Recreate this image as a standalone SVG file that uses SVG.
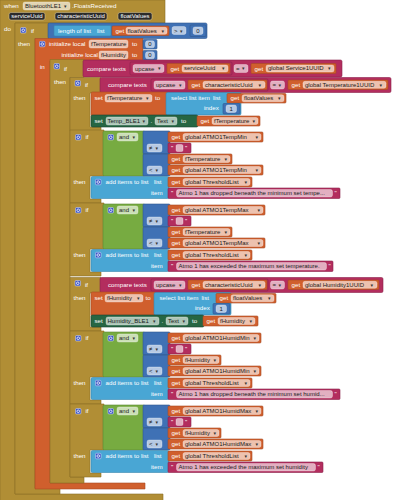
<svg xmlns="http://www.w3.org/2000/svg" width="393" height="500" viewBox="0 0 393 500">
<style>
text{font-family:'Liberation Sans','DejaVu Sans',sans-serif;font-size:6.2px;fill:#fff}
.d{fill:#1a1a1a;font-size:6px}
.a{fill:#333;font-size:5px}
.g{fill:#B18E35;stroke:#8C6F27;stroke-width:.6}
.o{fill:#D05F2D;stroke:#A74B22;stroke-width:.6}
.p{fill:#B32D5E;stroke:#8C2249;stroke-width:.6}
.lb{fill:#49A6D4;stroke:#3886AE;stroke-width:.6}
.mb{fill:#3F71B5;stroke:#2F578E;stroke-width:.6}
.lg{fill:#77AB41;stroke:#5C8832;stroke-width:.6}
.dg{fill:#266643;stroke:#184530;stroke-width:.6}
.f{fill:#fff;fill-opacity:.62;stroke:#fff;stroke-opacity:.6;stroke-width:.5}
.pd{fill:#2b2b2b;stroke:#E0CFA0;stroke-width:.5}
</style>
<defs>
<g id="gear"><rect width="5.5" height="5.5" rx="1" fill="#3B55C6" stroke="#DDE3FF" stroke-width=".5"/><circle cx="2.75" cy="2.75" r="1.3" fill="none" stroke="#fff" stroke-width=".8"/></g>
</defs>

<g id="event">
<path class="g" d="M0,0H165V23H15V494H163V502H0Z"/>
<text x="4" y="8.3">when</text>
<rect class="f" x="23" y="2" width="47" height="8" rx="2"/>
<text class="d" x="25" y="8.2">BluetoothLE1</text><text class="a" x="64" y="8">▾</text>
<text x="72" y="8.3">.FloatsReceived</text>
<rect class="pd" x="9" y="12.5" width="36" height="7.5" rx="2"/><text x="27" y="18.3" text-anchor="middle" style="font-size:6px">serviceUuid</text>
<rect class="pd" x="55" y="12.5" width="52" height="7.5" rx="2"/><text x="81" y="18.3" text-anchor="middle" style="font-size:6px">characteristicUuid</text>
<rect class="pd" x="118" y="12.5" width="34" height="7.5" rx="2"/><text x="135" y="18.3" text-anchor="middle" style="font-size:6px">floatValues</text>
<text x="4" y="30.5">do</text>
</g>

<g id="if-length">
<path class="g" d="M15,23H49V38.5H35V488H60V494H15Z"/>
<use href="#gear" x="20.5" y="27.5"/>
<text x="31" y="32.7">if</text>
<text x="18" y="45.7">then</text>
</g>

<g id="cmp-length">
<rect class="mb" x="48" y="23" width="159" height="15.5" rx="1.5"/>
<rect class="lb" x="54" y="25.5" width="57" height="10.5" rx="1"/>
<text x="58" y="32.7">length of list</text><text x="97" y="32.7">list</text>
<rect class="o" x="112" y="26" width="57" height="9.5" rx="1"/>
<text x="115.5" y="32.7">get</text>
<rect class="f" x="126" y="27.3" width="41" height="7" rx="2"/>
<text class="d" x="127.5" y="32.6">floatValues</text><text class="a" x="161.5" y="32.5">▾</text>
<rect class="f" x="172" y="26.5" width="14" height="8" rx="2"/>
<text class="d" x="174" y="32.6">&gt;</text><text class="a" x="180" y="32.5">▾</text>
<rect class="mb" x="190" y="25" width="16" height="11.5" rx="1"/>
<rect class="f" x="193" y="27" width="10" height="7.5" rx="2"/>
<text class="d" x="198" y="32.6" text-anchor="middle">0</text>
</g>

<g id="init-local">
<path class="o" d="M35,38.5H143V61H50V483H145V489H35Z"/>
<use href="#gear" x="39.5" y="41.3"/>
<text x="49" y="46.3">initialize local</text>
<rect class="f" x="89" y="40" width="39" height="8" rx="2"/>
<text class="d" x="91" y="46.2">fTemperature</text>
<text x="132" y="46.3">to</text>
<rect class="mb" x="143" y="39.5" width="14" height="9.5" rx="1"/>
<rect class="f" x="145.5" y="40.8" width="9" height="7" rx="2"/>
<text class="d" x="150" y="46.2" text-anchor="middle">0</text>
<text x="61.5" y="57.3">initialize local</text>
<rect class="f" x="99" y="51" width="29" height="8" rx="2"/>
<text class="d" x="101" y="57.2">fHumidity</text>
<text x="132" y="57.3">to</text>
<rect class="mb" x="143" y="50.5" width="14" height="9.5" rx="1"/>
<rect class="f" x="145.5" y="51.8" width="9" height="7" rx="2"/>
<text class="d" x="150" y="57.2" text-anchor="middle">0</text>
<text x="40" y="68.5">in</text>
</g>

<g id="if-service">
<path class="g" d="M50,59.5H84V77.5H70V477H84V483H50Z"/>
<use href="#gear" x="54" y="63.5"/>
<text x="64" y="70.5">if</text>
<text x="54" y="84.3">then</text>
</g>

<g id="cmp-service">
<rect class="p" x="83" y="60" width="259" height="17" rx="1.5"/>
<text x="87" y="70.5">compare texts</text>
<rect class="p" x="130" y="62" width="102" height="13" rx="1"/>
<rect class="f" x="133" y="64.5" width="31" height="8" rx="2"/>
<text class="d" x="135" y="70.6">upcase</text><text class="a" x="158" y="70.4">▾</text>
<rect class="o" x="167" y="63.5" width="63" height="10" rx="1"/>
<text x="170.5" y="70.5">get</text>
<rect class="f" x="182" y="65" width="46" height="7" rx="2"/>
<text class="d" x="184" y="70.4">serviceUuid</text><text class="a" x="222" y="70.3">▾</text>
<rect class="f" x="234" y="64.5" width="14" height="8" rx="2"/>
<text class="d" x="236" y="70.6">=</text><text class="a" x="242" y="70.4">▾</text>
<rect class="o" x="251" y="63.5" width="85" height="10" rx="1"/>
<text x="254.5" y="70.5">get</text>
<rect class="f" x="266" y="65" width="68" height="7" rx="2"/>
<text class="d" x="268" y="70.4">global Service1UUID</text><text class="a" x="328" y="70.3">▾</text>
</g>

<g id="if-temp">
<path class="g" d="M70,77.5H101V93H90V127H101V130.5H70Z"/>
<use href="#gear" x="75" y="80.5"/>
<text x="85" y="86.7">if</text>
<text x="73.5" y="100.3">then</text>
</g>

<g id="cmp-temp">
<rect class="p" x="100" y="77.5" width="291" height="15" rx="1.5"/>
<text x="108" y="86.7">compare texts</text>
<rect class="p" x="151" y="79" width="117" height="12" rx="1"/>
<rect class="f" x="154" y="81" width="31" height="8" rx="2"/>
<text class="d" x="156" y="87.1">upcase</text><text class="a" x="179" y="86.9">▾</text>
<rect class="o" x="188" y="80" width="79" height="9.5" rx="1"/>
<text x="191.5" y="86.7">get</text>
<rect class="f" x="203" y="81.3" width="62" height="7" rx="2"/>
<text class="d" x="205" y="86.6">characteristicUuid</text><text class="a" x="258.5" y="86.5">▾</text>
<rect class="f" x="270.5" y="81" width="14" height="8" rx="2"/>
<text class="d" x="272.5" y="87.1">=</text><text class="a" x="278.5" y="86.9">▾</text>
<rect class="o" x="288" y="80" width="100" height="9.5" rx="1"/>
<text x="291.5" y="86.7">get</text>
<rect class="f" x="303" y="81.3" width="83" height="7" rx="2"/>
<text class="d" x="305" y="86.6">global Temperature1UUID</text><text class="a" x="379.5" y="86.5">▾</text>
</g>

<g id="set-ftemp">
<rect class="o" x="91" y="92" width="77" height="24" rx="1.5"/>
<text x="94.5" y="100.3">set</text>
<rect class="f" x="105" y="94.5" width="47" height="7.5" rx="2"/>
<text class="d" x="107" y="100.3">fTemperature</text><text class="a" x="146" y="100.1">▾</text>
<text x="155" y="100.3">to</text>
</g>

<g id="select-temp">
<rect class="lb" x="166" y="92.5" width="75" height="22.5" rx="1.5"/>
<text x="171" y="100.3">select list item</text>
<text x="213" y="100.3">list</text>
<text x="204" y="110.3">index</text>
<rect class="o" x="227" y="93.5" width="59" height="9.5" rx="1"/>
<text x="230.5" y="100.3">get</text>
<rect class="f" x="242" y="94.8" width="42" height="7" rx="2"/>
<text class="d" x="244" y="100.2">floatValues</text><text class="a" x="278" y="100">▾</text>
<rect class="mb" x="223" y="103.5" width="17" height="10.5" rx="1"/>
<rect class="f" x="226" y="105" width="10.5" height="7.5" rx="2"/>
<text class="d" x="231.2" y="110.8" text-anchor="middle">1</text>
</g>

<g id="set-temp-ble">
<rect class="dg" x="91" y="115" width="107" height="12" rx="1.5"/>
<text x="94.5" y="123.2">set</text>
<rect class="f" x="106" y="117" width="42" height="8" rx="2"/>
<text class="d" x="107.5" y="123.1">Temp_BLE1</text><text class="a" x="142.5" y="123">▾</text>
<text x="150.5" y="123.2">.</text>
<rect class="f" x="155" y="117" width="22" height="8" rx="2"/>
<text class="d" x="157" y="123.1">Text</text><text class="a" x="171.5" y="123">▾</text>
<text x="181" y="123.2">to</text>
<rect class="o" x="197" y="116" width="63" height="10" rx="1"/>
<text x="200.5" y="123.2">get</text>
<rect class="f" x="212" y="117.5" width="46" height="7" rx="2"/>
<text class="d" x="214" y="122.9">fTemperature</text><text class="a" x="252.5" y="122.8">▾</text>
</g>

<g id="if-tmin" transform="translate(0,130)">
<path class="g" d="M70,0H104V46H90V69H101V73H70Z"/>
<use href="#gear" x="75.5" y="4.5"/>
<text x="85.5" y="9.2">if</text>
<rect class="lg" x="103" y="1" width="42" height="45" rx="1.5"/>
<use href="#gear" x="108" y="4.5"/>
<rect class="f" x="117" y="3" width="21" height="8" rx="2"/>
<text class="d" x="119" y="9.1">and</text><text class="a" x="132.5" y="8.9">▾</text>
<rect class="mb" x="143" y="1" width="27" height="23" rx="1"/>
<rect class="f" x="147" y="14" width="15" height="8" rx="2"/>
<text class="d" x="149" y="20.1">≠</text><text class="a" x="155.5" y="19.9">▾</text>
<rect class="mb" x="143" y="24" width="27" height="22" rx="1"/>
<rect class="f" x="147" y="36" width="15" height="8" rx="2"/>
<text class="d" x="149" y="42.1">&lt;</text><text class="a" x="155.5" y="41.9">▾</text>
<rect class="o" x="168" y="2" width="95" height="10" rx="1"/>
<text x="171.5" y="9.2">get</text>
<rect class="f" x="183" y="3.5" width="78" height="7" rx="2"/>
<text class="d" x="185" y="8.9">global ATMO1TempMin</text><text class="a" x="255.5" y="8.8">▾</text>
<rect class="p" x="168" y="13" width="23" height="10" rx="1"/>
<text x="171" y="20.2">"</text>
<rect class="f" x="176" y="14.5" width="7" height="7" rx="1.5"/>
<text x="185" y="20.2">"</text>
<rect class="o" x="168" y="24" width="64" height="10" rx="1"/>
<text x="171.5" y="31.2">get</text>
<rect class="f" x="183" y="25.5" width="47" height="7" rx="2"/>
<text class="d" x="185" y="30.9">fTemperature</text><text class="a" x="224.5" y="30.8">▾</text>
<rect class="o" x="168" y="35" width="95" height="10" rx="1"/>
<text x="171.5" y="42.2">get</text>
<rect class="f" x="183" y="36.5" width="78" height="7" rx="2"/>
<text class="d" x="185" y="41.9">global ATMO1TempMin</text><text class="a" x="255.5" y="41.8">▾</text>
<text x="73.5" y="54.2">then</text>
<rect class="lb" x="91" y="46.5" width="78" height="22" rx="1.5"/>
<use href="#gear" x="95.5" y="49.3"/>
<text x="105.5" y="54.2">add items to list</text>
<text x="154" y="54.2">list</text>
<text x="151" y="65.2">item</text>
<rect class="o" x="168" y="47" width="84" height="10" rx="1"/>
<text x="171.5" y="54.2">get</text>
<rect class="f" x="183" y="48.5" width="67" height="7" rx="2"/>
<text class="d" x="185" y="53.9">global ThresholdList</text><text class="a" x="244.5" y="53.8">▾</text>
<rect class="p" x="168" y="58" width="172" height="10.5" rx="1"/>
<text x="171" y="65.2">"</text>
<rect class="f" x="176.5" y="59.5" width="156" height="7.5" rx="2"/>
<text class="d" x="178.5" y="65.2">Atmo 1 has dropped beneath the minimum set tempe...</text>
<text x="334.5" y="65.2">"</text>
</g>

<g id="if-tmax" transform="translate(0,203)">
<path class="g" d="M70,0H104V46H90V69H101V73H70Z"/>
<use href="#gear" x="75.5" y="4.5"/>
<text x="85.5" y="9.2">if</text>
<rect class="lg" x="103" y="1" width="42" height="45" rx="1.5"/>
<use href="#gear" x="108" y="4.5"/>
<rect class="f" x="117" y="3" width="21" height="8" rx="2"/>
<text class="d" x="119" y="9.1">and</text><text class="a" x="132.5" y="8.9">▾</text>
<rect class="mb" x="143" y="1" width="27" height="23" rx="1"/>
<rect class="f" x="147" y="14" width="15" height="8" rx="2"/>
<text class="d" x="149" y="20.1">≠</text><text class="a" x="155.5" y="19.9">▾</text>
<rect class="mb" x="143" y="24" width="27" height="22" rx="1"/>
<rect class="f" x="147" y="36" width="15" height="8" rx="2"/>
<text class="d" x="149" y="42.1">&lt;</text><text class="a" x="155.5" y="41.9">▾</text>
<rect class="o" x="168" y="2" width="97" height="10" rx="1"/>
<text x="171.5" y="9.2">get</text>
<rect class="f" x="183" y="3.5" width="80" height="7" rx="2"/>
<text class="d" x="185" y="8.9">global ATMO1TempMax</text><text class="a" x="257.5" y="8.8">▾</text>
<rect class="p" x="168" y="13" width="23" height="10" rx="1"/>
<text x="171" y="20.2">"</text>
<rect class="f" x="176" y="14.5" width="7" height="7" rx="1.5"/>
<text x="185" y="20.2">"</text>
<rect class="o" x="168" y="24" width="64" height="10" rx="1"/>
<text x="171.5" y="31.2">get</text>
<rect class="f" x="183" y="25.5" width="47" height="7" rx="2"/>
<text class="d" x="185" y="30.9">fTemperature</text><text class="a" x="224.5" y="30.8">▾</text>
<rect class="o" x="168" y="35" width="97" height="10" rx="1"/>
<text x="171.5" y="42.2">get</text>
<rect class="f" x="183" y="36.5" width="80" height="7" rx="2"/>
<text class="d" x="185" y="41.9">global ATMO1TempMax</text><text class="a" x="257.5" y="41.8">▾</text>
<text x="73.5" y="54.2">then</text>
<rect class="lb" x="91" y="46.5" width="78" height="22" rx="1.5"/>
<use href="#gear" x="95.5" y="49.3"/>
<text x="105.5" y="54.2">add items to list</text>
<text x="154" y="54.2">list</text>
<text x="151" y="65.2">item</text>
<rect class="o" x="168" y="47" width="84" height="10" rx="1"/>
<text x="171.5" y="54.2">get</text>
<rect class="f" x="183" y="48.5" width="67" height="7" rx="2"/>
<text class="d" x="185" y="53.9">global ThresholdList</text><text class="a" x="244.5" y="53.8">▾</text>
<rect class="p" x="168" y="58" width="165" height="10.5" rx="1"/>
<text x="171" y="65.2">"</text>
<rect class="f" x="176.5" y="59.5" width="150" height="7.5" rx="2"/>
<text class="d" x="178.5" y="65.2">Atmo 1 has exceeded the maximum set temperature.</text>
<text x="328.5" y="65.2">"</text>
</g>

<g id="if-humid">
<path class="g" d="M70,277.5H101V293H90V327H101V331H70Z"/>
<use href="#gear" x="75" y="280.5"/>
<text x="85" y="286.7">if</text>
<text x="73.5" y="300.3">then</text>
</g>

<g id="cmp-humid">
<rect class="p" x="100" y="277.5" width="283" height="15" rx="1.5"/>
<text x="108" y="286.7">compare texts</text>
<rect class="p" x="151" y="279" width="117" height="12" rx="1"/>
<rect class="f" x="154" y="281" width="31" height="8" rx="2"/>
<text class="d" x="156" y="287.1">upcase</text><text class="a" x="179" y="286.9">▾</text>
<rect class="o" x="188" y="280" width="79" height="9.5" rx="1"/>
<text x="191.5" y="286.7">get</text>
<rect class="f" x="203" y="281.3" width="62" height="7" rx="2"/>
<text class="d" x="205" y="286.6">characteristicUuid</text><text class="a" x="258.5" y="286.5">▾</text>
<rect class="f" x="270.5" y="281" width="14" height="8" rx="2"/>
<text class="d" x="272.5" y="287.1">=</text><text class="a" x="278.5" y="286.9">▾</text>
<rect class="o" x="288" y="280" width="91" height="9.5" rx="1"/>
<text x="291.5" y="286.7">get</text>
<rect class="f" x="303" y="281.3" width="74" height="7" rx="2"/>
<text class="d" x="305" y="286.6">global Humidity1UUID</text><text class="a" x="370.5" y="286.5">▾</text>
</g>

<g id="set-fhum">
<rect class="o" x="91" y="292" width="65" height="24" rx="1.5"/>
<text x="94.5" y="300.3">set</text>
<rect class="f" x="105" y="294.5" width="38" height="7.5" rx="2"/>
<text class="d" x="107" y="300.3">fHumidity</text><text class="a" x="137" y="300.1">▾</text>
<text x="145.5" y="300.3">to</text>
</g>

<g id="select-hum">
<rect class="lb" x="154" y="292.5" width="77" height="22.5" rx="1.5"/>
<text x="159.5" y="300.3">select list item</text>
<text x="201.5" y="300.3">list</text>
<text x="195" y="310.3">index</text>
<rect class="o" x="216" y="293.5" width="60" height="9.5" rx="1"/>
<text x="219.5" y="300.3">get</text>
<rect class="f" x="231" y="294.8" width="43" height="7" rx="2"/>
<text class="d" x="233" y="300.2">floatValues</text><text class="a" x="268" y="300">▾</text>
<rect class="mb" x="213" y="303.5" width="17" height="10.5" rx="1"/>
<rect class="f" x="216" y="305" width="10.5" height="7.5" rx="2"/>
<text class="d" x="221.2" y="310.8" text-anchor="middle">1</text>
</g>

<g id="set-hum-ble">
<rect class="dg" x="91" y="315" width="113" height="12" rx="1.5"/>
<text x="94.5" y="323.2">set</text>
<rect class="f" x="106" y="317" width="53" height="8" rx="2"/>
<text class="d" x="107.5" y="323.1">Humidity_BLE1</text><text class="a" x="153" y="323">▾</text>
<text x="161.5" y="323.2">.</text>
<rect class="f" x="166" y="317" width="22" height="8" rx="2"/>
<text class="d" x="168" y="323.1">Text</text><text class="a" x="182.5" y="323">▾</text>
<text x="192" y="323.2">to</text>
<rect class="o" x="203" y="316" width="55" height="10" rx="1"/>
<text x="206.5" y="323.2">get</text>
<rect class="f" x="218" y="317.5" width="37" height="7" rx="2"/>
<text class="d" x="220" y="322.9">fHumidity</text><text class="a" x="249.5" y="322.8">▾</text>
</g>

<g id="if-hmin" transform="translate(0,331)">
<path class="g" d="M70,0H104V46H90V69H101V73H70Z"/>
<use href="#gear" x="75.5" y="4.5"/>
<text x="85.5" y="9.2">if</text>
<rect class="lg" x="103" y="1" width="42" height="45" rx="1.5"/>
<use href="#gear" x="108" y="4.5"/>
<rect class="f" x="117" y="3" width="21" height="8" rx="2"/>
<text class="d" x="119" y="9.1">and</text><text class="a" x="132.5" y="8.9">▾</text>
<rect class="mb" x="143" y="1" width="27" height="23" rx="1"/>
<rect class="f" x="147" y="14" width="15" height="8" rx="2"/>
<text class="d" x="149" y="20.1">≠</text><text class="a" x="155.5" y="19.9">▾</text>
<rect class="mb" x="143" y="24" width="27" height="22" rx="1"/>
<rect class="f" x="147" y="36" width="15" height="8" rx="2"/>
<text class="d" x="149" y="42.1">&lt;</text><text class="a" x="155.5" y="41.9">▾</text>
<rect class="o" x="168" y="2" width="93" height="10" rx="1"/>
<text x="171.5" y="9.2">get</text>
<rect class="f" x="183" y="3.5" width="76" height="7" rx="2"/>
<text class="d" x="185" y="8.9">global ATMO1HumidMin</text><text class="a" x="253.5" y="8.8">▾</text>
<rect class="p" x="168" y="13" width="23" height="10" rx="1"/>
<text x="171" y="20.2">"</text>
<rect class="f" x="176" y="14.5" width="7" height="7" rx="1.5"/>
<text x="185" y="20.2">"</text>
<rect class="o" x="168" y="24" width="53" height="10" rx="1"/>
<text x="171.5" y="31.2">get</text>
<rect class="f" x="183" y="25.5" width="36" height="7" rx="2"/>
<text class="d" x="185" y="30.9">fHumidity</text><text class="a" x="213.5" y="30.8">▾</text>
<rect class="o" x="168" y="35" width="93" height="10" rx="1"/>
<text x="171.5" y="42.2">get</text>
<rect class="f" x="183" y="36.5" width="76" height="7" rx="2"/>
<text class="d" x="185" y="41.9">global ATMO1HumidMin</text><text class="a" x="253.5" y="41.8">▾</text>
<text x="73.5" y="54.2">then</text>
<rect class="lb" x="91" y="46.5" width="78" height="22" rx="1.5"/>
<use href="#gear" x="95.5" y="49.3"/>
<text x="105.5" y="54.2">add items to list</text>
<text x="154" y="54.2">list</text>
<text x="151" y="65.2">item</text>
<rect class="o" x="168" y="47" width="84" height="10" rx="1"/>
<text x="171.5" y="54.2">get</text>
<rect class="f" x="183" y="48.5" width="67" height="7" rx="2"/>
<text class="d" x="185" y="53.9">global ThresholdList</text><text class="a" x="244.5" y="53.8">▾</text>
<rect class="p" x="168" y="58" width="172" height="10.5" rx="1"/>
<text x="171" y="65.2">"</text>
<rect class="f" x="176.5" y="59.5" width="156" height="7.5" rx="2"/>
<text class="d" x="178.5" y="65.2">Atmo 1 has dropped beneath the minimum set humid...</text>
<text x="334.5" y="65.2">"</text>
</g>

<g id="if-hmax" transform="translate(0,404)">
<path class="g" d="M70,0H104V46H90V69H101V73H70Z"/>
<use href="#gear" x="75.5" y="4.5"/>
<text x="85.5" y="9.2">if</text>
<rect class="lg" x="103" y="1" width="42" height="45" rx="1.5"/>
<use href="#gear" x="108" y="4.5"/>
<rect class="f" x="117" y="3" width="21" height="8" rx="2"/>
<text class="d" x="119" y="9.1">and</text><text class="a" x="132.5" y="8.9">▾</text>
<rect class="mb" x="143" y="1" width="27" height="23" rx="1"/>
<rect class="f" x="147" y="14" width="15" height="8" rx="2"/>
<text class="d" x="149" y="20.1">≠</text><text class="a" x="155.5" y="19.9">▾</text>
<rect class="mb" x="143" y="24" width="27" height="22" rx="1"/>
<rect class="f" x="147" y="36" width="15" height="8" rx="2"/>
<text class="d" x="149" y="42.1">&lt;</text><text class="a" x="155.5" y="41.9">▾</text>
<rect class="o" x="168" y="2" width="95" height="10" rx="1"/>
<text x="171.5" y="9.2">get</text>
<rect class="f" x="183" y="3.5" width="78" height="7" rx="2"/>
<text class="d" x="185" y="8.9">global ATMO1HumidMax</text><text class="a" x="255.5" y="8.8">▾</text>
<rect class="p" x="168" y="13" width="23" height="10" rx="1"/>
<text x="171" y="20.2">"</text>
<rect class="f" x="176" y="14.5" width="7" height="7" rx="1.5"/>
<text x="185" y="20.2">"</text>
<rect class="o" x="168" y="24" width="53" height="10" rx="1"/>
<text x="171.5" y="31.2">get</text>
<rect class="f" x="183" y="25.5" width="36" height="7" rx="2"/>
<text class="d" x="185" y="30.9">fHumidity</text><text class="a" x="213.5" y="30.8">▾</text>
<rect class="o" x="168" y="35" width="95" height="10" rx="1"/>
<text x="171.5" y="42.2">get</text>
<rect class="f" x="183" y="36.5" width="78" height="7" rx="2"/>
<text class="d" x="185" y="41.9">global ATMO1HumidMax</text><text class="a" x="255.5" y="41.8">▾</text>
<text x="73.5" y="54.2">then</text>
<rect class="lb" x="91" y="46.5" width="78" height="22" rx="1.5"/>
<use href="#gear" x="95.5" y="49.3"/>
<text x="105.5" y="54.2">add items to list</text>
<text x="154" y="54.2">list</text>
<text x="151" y="65.2">item</text>
<rect class="o" x="168" y="47" width="84" height="10" rx="1"/>
<text x="171.5" y="54.2">get</text>
<rect class="f" x="183" y="48.5" width="67" height="7" rx="2"/>
<text class="d" x="185" y="53.9">global ThresholdList</text><text class="a" x="244.5" y="53.8">▾</text>
<rect class="p" x="168" y="58" width="155" height="10.5" rx="1"/>
<text x="171" y="65.2">"</text>
<rect class="f" x="176.5" y="59.5" width="139" height="7.5" rx="2"/>
<text class="d" x="178.5" y="65.2">Atmo 1 has exceeded the maximum set humidity</text>
<text x="317.5" y="65.2">"</text>
</g>
</svg>
